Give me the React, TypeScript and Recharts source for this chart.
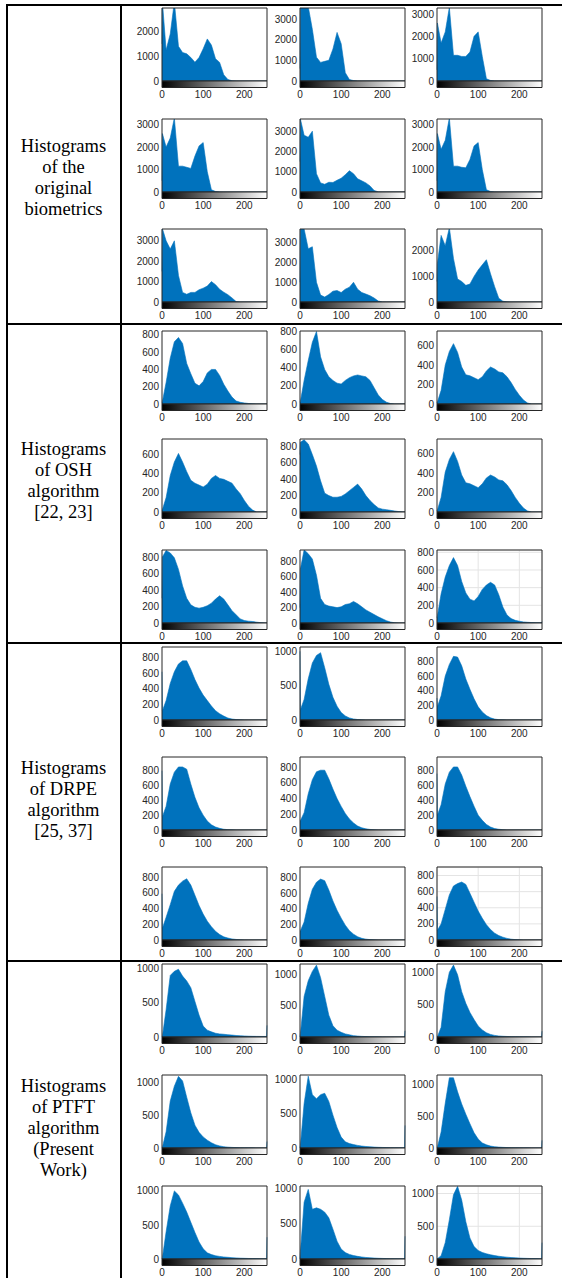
import React from "react";
import { AreaChart, Area, XAxis, YAxis, ReferenceArea, CartesianGrid } from "recharts";

// gray-level bins sampled along 0..255
const BINS = [0, 1, 10, 20, 30, 40, 50, 60, 70, 80, 90, 100, 110, 120, 130, 140, 150, 160, 170, 180, 190, 200, 210, 220, 230, 240, 250, 254, 255];
const X_TICKS = [0, 100, 200];

// original biometrics
const orig1 = [1500, 3200, 1250, 1900, 3200, 1400, 1150, 1100, 950, 760, 950, 1300, 1700, 1450, 900, 750, 250, 60, 10, 3, 0, 0, 0, 0, 0, 0, 0, 0, 0];
const orig2 = [600, 3600, 3600, 3600, 2500, 1150, 900, 950, 1000, 1550, 2350, 1800, 400, 70, 20, 5, 0, 0, 0, 0, 0, 0, 0, 0, 0, 0, 0, 0, 0];
const orig3 = [500, 2600, 1700, 2200, 3300, 1150, 1150, 1100, 1100, 1300, 2000, 2200, 1100, 100, 25, 5, 0, 0, 0, 0, 0, 0, 0, 0, 0, 0, 0, 0, 0];
const orig4 = [500, 2600, 2000, 2400, 3300, 1150, 1150, 1100, 1050, 1600, 2050, 2200, 900, 100, 25, 5, 0, 0, 0, 0, 0, 0, 0, 0, 0, 0, 0, 0, 0];
const orig5 = [1500, 3600, 2800, 2700, 3000, 900, 450, 380, 480, 470, 580, 680, 850, 1050, 900, 650, 550, 450, 300, 80, 5, 0, 0, 0, 0, 0, 0, 0, 0];
const orig6 = [500, 2600, 1900, 2300, 3300, 1150, 1150, 1100, 1080, 1450, 2050, 2200, 1000, 100, 25, 5, 0, 0, 0, 0, 0, 0, 0, 0, 0, 0, 0, 0, 0];
const orig7 = [1500, 3600, 3000, 2600, 3000, 1300, 470, 380, 470, 470, 600, 680, 780, 1000, 850, 620, 480, 360, 200, 20, 0, 0, 0, 0, 0, 0, 0, 0, 0];
const orig8 = [1000, 3700, 3700, 2700, 2800, 1000, 350, 250, 380, 550, 580, 480, 650, 750, 1000, 650, 480, 400, 320, 200, 50, 5, 0, 0, 0, 0, 0, 0, 0];
const orig9 = [800, 1500, 2600, 2200, 2900, 1700, 900, 800, 650, 700, 1000, 1250, 1450, 1650, 1100, 600, 150, 30, 5, 0, 0, 0, 0, 0, 0, 0, 0, 0, 0];
const origYMax = [2950, 3530, 3270, 3250, 3600, 3250, 3580, 3700, 2850];

// OSH algorithm
const osh1 = [20, 30, 250, 530, 720, 770, 700, 470, 350, 240, 210, 260, 360, 400, 400, 330, 230, 150, 80, 35, 20, 12, 6, 2, 0, 0, 0, 0, 0];
const osh2 = [20, 30, 260, 480, 680, 800, 520, 380, 300, 260, 230, 220, 260, 290, 310, 320, 310, 300, 260, 180, 100, 50, 20, 5, 0, 0, 0, 0, 0];
const osh3 = [15, 20, 140, 400, 540, 620, 530, 380, 300, 290, 270, 250, 280, 340, 380, 360, 330, 320, 280, 220, 150, 90, 40, 10, 0, 0, 0, 0, 0];
const osh4 = [20, 25, 150, 380, 520, 610, 520, 420, 330, 300, 280, 260, 290, 350, 380, 350, 340, 320, 300, 240, 190, 120, 60, 20, 0, 0, 0, 0, 0];
const osh5 = [700, 850, 880, 830, 700, 560, 380, 230, 200, 180, 180, 190, 220, 260, 300, 340, 280, 200, 140, 90, 50, 35, 28, 20, 12, 5, 0, 0, 0];
const osh6 = [15, 20, 150, 410, 540, 620, 520, 380, 300, 290, 270, 250, 290, 350, 380, 360, 330, 320, 280, 220, 150, 90, 40, 10, 0, 0, 0, 0, 0];
const osh7 = [300, 800, 880, 850, 790, 650, 450, 300, 220, 190, 180, 190, 210, 240, 290, 330, 290, 220, 150, 100, 50, 30, 22, 18, 10, 4, 0, 0, 0];
const osh8 = [200, 700, 950, 900, 830, 620, 320, 240, 220, 210, 200, 210, 240, 250, 280, 250, 210, 170, 140, 110, 80, 55, 30, 12, 3, 0, 0, 0, 0];
const osh9 = [60, 80, 330, 520, 650, 740, 650, 470, 340, 270, 250, 300, 380, 430, 460, 430, 320, 180, 90, 50, 30, 20, 12, 8, 5, 3, 2, 2, 15];
const oshYMax = [845, 805, 750, 760, 890, 750, 885, 948, 826];

// DRPE algorithm
const drpe1 = [620, 120, 250, 470, 620, 720, 760, 760, 650, 520, 410, 320, 250, 180, 120, 80, 50, 25, 12, 6, 3, 1, 0, 0, 0, 0, 0, 0, 0];
const drpe2 = [1000, 150, 300, 600, 830, 940, 980, 760, 520, 330, 200, 110, 60, 30, 15, 7, 3, 0, 0, 0, 0, 0, 0, 0, 0, 0, 0, 0, 0];
const drpe3 = [300, 180, 330, 600, 760, 870, 860, 740, 560, 420, 290, 180, 110, 60, 30, 12, 5, 2, 0, 0, 0, 0, 0, 0, 0, 0, 0, 0, 0];
const drpe4 = [800, 180, 320, 620, 780, 850, 850, 820, 620, 440, 300, 200, 120, 70, 40, 22, 10, 5, 2, 0, 0, 0, 0, 0, 0, 0, 0, 0, 0];
const drpe5 = [120, 120, 220, 460, 640, 740, 760, 760, 650, 520, 400, 300, 210, 140, 90, 50, 28, 15, 7, 3, 0, 0, 0, 0, 0, 0, 0, 0, 0];
const drpe6 = [760, 200, 340, 620, 780, 850, 850, 740, 590, 450, 320, 200, 130, 75, 40, 20, 10, 4, 0, 0, 0, 0, 0, 0, 0, 0, 0, 0, 0];
const drpe7 = [590, 150, 290, 450, 620, 700, 750, 780, 700, 570, 440, 330, 240, 170, 110, 70, 40, 25, 13, 7, 3, 1, 0, 0, 0, 0, 0, 0, 0];
const drpe8 = [120, 120, 230, 470, 650, 740, 780, 760, 640, 500, 380, 280, 190, 120, 75, 42, 22, 11, 5, 2, 0, 0, 0, 0, 0, 0, 0, 0, 0];
const drpe9 = [540, 120, 200, 380, 560, 670, 700, 720, 690, 580, 470, 360, 270, 190, 130, 85, 55, 35, 20, 10, 5, 2, 0, 0, 0, 0, 0, 0, 0];
const drpeYMax = [938, 1063, 998, 984, 928, 984, 930, 935, 906];

// PTFT algorithm (present work)
const ptft1 = [0, 10, 400, 900, 960, 990, 890, 820, 720, 520, 320, 160, 100, 75, 55, 45, 40, 33, 28, 22, 18, 15, 12, 10, 9, 8, 8, 8, 170];
const ptft2 = [0, 50, 650, 900, 1050, 1150, 950, 650, 350, 180, 110, 75, 50, 35, 22, 15, 10, 7, 5, 4, 3, 2, 2, 1, 1, 1, 1, 1, 100];
const ptft3 = [0, 5, 150, 700, 1000, 1110, 960, 700, 520, 380, 270, 170, 110, 65, 40, 25, 16, 11, 8, 5, 4, 3, 2, 2, 1, 1, 1, 1, 90];
const ptft4 = [0, 10, 250, 720, 950, 1100, 1030, 780, 540, 350, 240, 170, 120, 80, 50, 32, 20, 13, 9, 6, 4, 3, 2, 2, 1, 1, 1, 1, 100];
const ptft5 = [0, 40, 650, 1050, 780, 720, 780, 800, 680, 480, 300, 160, 90, 65, 50, 38, 28, 22, 17, 13, 10, 8, 6, 5, 4, 3, 3, 3, 330];
const ptft6 = [0, 10, 250, 700, 1100, 1100, 880, 690, 530, 380, 240, 140, 80, 50, 30, 20, 14, 10, 7, 5, 4, 3, 2, 2, 1, 1, 1, 1, 120];
const ptft7 = [0, 20, 400, 780, 1000, 940, 820, 690, 540, 390, 250, 150, 90, 65, 48, 38, 30, 25, 20, 16, 12, 10, 8, 7, 6, 5, 5, 5, 320];
const ptft8 = [0, 100, 800, 980, 700, 720, 700, 660, 580, 420, 250, 140, 90, 65, 48, 37, 28, 22, 17, 13, 10, 8, 6, 5, 4, 3, 3, 3, 320];
const ptft9 = [0, 5, 50, 250, 600, 980, 1110, 900, 570, 320, 190, 130, 100, 80, 65, 52, 42, 34, 28, 22, 18, 14, 11, 9, 7, 6, 5, 5, 250];
const ptftYMax = [1067, 1168, 1127, 1121, 1067, 1144, 1072, 1028, 1115];

const T1000 = [0, 1000, 2000];
const T1000x3 = [0, 1000, 2000, 3000];
const T200 = [0, 200, 400, 600, 800];
const T200s = [0, 200, 400, 600];
const T500 = [0, 500, 1000];
const origTicks = [T1000, T1000x3, T1000x3, T1000x3, T1000x3, T1000x3, T1000x3, T1000x3, T1000];
const oshTicks = [T200, T200, T200s, T200s, T200, T200s, T200, T200, T200];
const drpeTicks = [T200, T500, T200, T200, T200, T200, T200, T200, T200];
const ptftTicks = [T500, T500, T500, T500, T500, T500, T500, T500, T500];

const BLUE = "#0072BD";
const INK = "#262626";
const SANS = "'Liberation Sans', Arial, Helvetica, sans-serif";
const SERIF = "'Liberation Serif', 'Times New Roman', serif";

const PLOT_W = 105;
const HIST_H = 73;
const BAR_H = 6.5;
const AXIS_W = 40;
const PAD_TOP = 4;
const PAD_RIGHT = 6;
const LABEL_H = 16;

const COL_X = [162, 300, 437];

const GROUPS = [
  {
    lines: ["Histograms", "of the", "original", "biometrics"],
    baseline: 152,
    rowY: [8, 118.5, 229.3],
    series: [orig1, orig2, orig3, orig4, orig5, orig6, orig7, orig8, orig9],
    yMax: origYMax,
    ticks: origTicks,
    gridLast: false,
  },
  {
    lines: ["Histograms", "of OSH", "algorithm", "[22, 23]"],
    baseline: 455,
    rowY: [331, 439.3, 549.7],
    series: [osh1, osh2, osh3, osh4, osh5, osh6, osh7, osh8, osh9],
    yMax: oshYMax,
    ticks: oshTicks,
    gridLast: true,
  },
  {
    lines: ["Histograms", "of DRPE", "algorithm", "[25, 37]"],
    baseline: 774,
    rowY: [646.7, 756.7, 866.7],
    series: [drpe1, drpe2, drpe3, drpe4, drpe5, drpe6, drpe7, drpe8, drpe9],
    yMax: drpeYMax,
    ticks: drpeTicks,
    gridLast: true,
  },
  {
    lines: ["Histograms", "of PTFT", "algorithm", "(Present", "Work)"],
    baseline: 1092,
    rowY: [964, 1074.5, 1185.5],
    series: [ptft1, ptft2, ptft3, ptft4, ptft5, ptft6, ptft7, ptft8, ptft9],
    yMax: ptftYMax,
    ticks: ptftTicks,
    gridLast: true,
  },
];

interface HistProps {
  id: string;
  values: number[];
  yMax: number;
  yTicks: number[];
  grid: boolean;
  x: number;
  y: number;
}

function Histogram({ id, values, yMax, yTicks, grid, x, y }: HistProps) {
  const data = BINS.map((bin, i) => ({ bin, count: values[i] }));
  const yMin = -(yMax * BAR_H) / HIST_H;
  const gradId = `ramp-${id}`;
  const tickFont = { fontSize: 10, fill: INK, fontFamily: SANS };
  return (
    <div style={{ position: "absolute", left: x - AXIS_W, top: y - PAD_TOP }}>
      <AreaChart
        width={AXIS_W + PLOT_W + PAD_RIGHT}
        height={PAD_TOP + HIST_H + BAR_H + LABEL_H}
        data={data}
        margin={{ top: PAD_TOP, right: PAD_RIGHT, bottom: 0, left: 0 }}
      >
        <defs>
          <linearGradient id={gradId} x1="0" y1="0" x2="1" y2="0">
            <stop offset="0%" stopColor="#000000" />
            <stop offset="100%" stopColor="#ffffff" />
          </linearGradient>
        </defs>
        {grid && <CartesianGrid stroke="#e4e4e4" />}
        <XAxis
          type="number"
          dataKey="bin"
          domain={[0, 255]}
          ticks={X_TICKS}
          interval={0}
          height={LABEL_H}
          axisLine={false}
          tickLine={false}
          tickSize={0}
          tickMargin={3}
          tick={tickFont}
        />
        <XAxis
          xAxisId="top"
          orientation="top"
          type="number"
          dataKey="bin"
          domain={[0, 255]}
          ticks={X_TICKS}
          interval={0}
          height={0}
          mirror
          axisLine={false}
          tick={false}
          tickSize={2.5}
          stroke={INK}
        />
        <YAxis
          type="number"
          domain={[yMin, yMax]}
          allowDataOverflow
          ticks={yTicks}
          interval={0}
          width={AXIS_W}
          axisLine={false}
          tickLine={false}
          tickSize={0}
          tickMargin={3}
          tick={tickFont}
        />
        <YAxis
          yAxisId="right"
          orientation="right"
          type="number"
          domain={[yMin, yMax]}
          allowDataOverflow
          ticks={yTicks}
          interval={0}
          width={0}
          mirror
          axisLine={false}
          tick={false}
          tickSize={2.5}
          stroke={INK}
        />
        <Area
          type="linear"
          dataKey="count"
          baseValue={0}
          stroke={BLUE}
          strokeWidth={0.6}
          fill={BLUE}
          fillOpacity={1}
          dot={false}
          activeDot={false}
          isAnimationActive={false}
        />
        <ReferenceArea x1={0} x2={255} y1={0} y2={yMax} fill="none" stroke={INK} strokeWidth={1} ifOverflow="visible" />
        <ReferenceArea
          x1={0}
          x2={255}
          y1={yMin}
          y2={0}
          fill={`url(#${gradId})`}
          fillOpacity={1}
          stroke={INK}
          strokeWidth={1}
          ifOverflow="visible"
        />
      </AreaChart>
    </div>
  );
}

const line = (left: number, top: number, width: number, height: number) => (
  <div style={{ position: "absolute", left, top, width, height, background: "#000" }} />
);

export default function App() {
  return (
    <div style={{ position: "absolute", left: 0, top: 0, width: 562, height: 1278, background: "#fff", overflow: "hidden" }}>
      {line(6, 4, 556, 2)}
      {line(6, 323.3, 556, 2)}
      {line(6, 642.3, 556, 2)}
      {line(6, 960.3, 556, 2)}
      {line(6, 4, 1.5, 1274)}
      {line(119.5, 4, 2, 1274)}
      {GROUPS.map((g, gi) => (
        <React.Fragment key={gi}>
          <div
            style={{
              position: "absolute",
              left: 7,
              width: 113,
              top: g.baseline - 16.5,
              textAlign: "center",
              fontFamily: SERIF,
              fontSize: 18.5,
              lineHeight: "21px",
              color: "#000",
            }}
          >
            {g.lines.map((t) => (
              <div key={t}>{t}</div>
            ))}
          </div>
          {g.series.map((values, i) => (
            <Histogram
              key={i}
              id={`${gi}-${i}`}
              values={values}
              yMax={g.yMax[i]}
              yTicks={g.ticks[i]}
              grid={g.gridLast && i === 8}
              x={COL_X[i % 3]}
              y={g.rowY[Math.floor(i / 3)]}
            />
          ))}
        </React.Fragment>
      ))}
    </div>
  );
}
